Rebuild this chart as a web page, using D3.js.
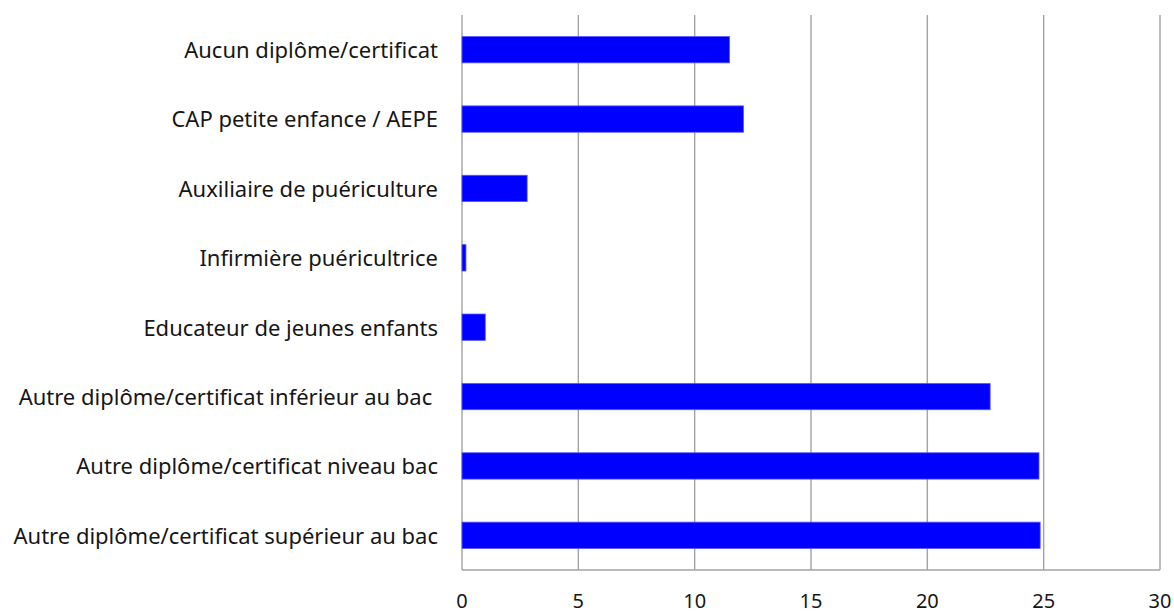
<!DOCTYPE html>
<html>
<head>
<meta charset="utf-8">
<script src="https://cdn.jsdelivr.net/npm/d3@7"></script>
<style>
  html, body { margin: 0; padding: 0; background: #fff; }
  svg text { font-family: "Noto Sans", "Open Sans", sans-serif; fill: #161616; }
</style>
</head>
<body>
<svg id="chart" width="1174" height="614"></svg>
<script>
// Diplômes des professionnels (en %)
const categories = [
  "Aucun diplôme/certificat",
  "CAP petite enfance / AEPE",
  "Auxiliaire de puériculture",
  "Infirmière puéricultrice",
  "Educateur de jeunes enfants",
  "Autre diplôme/certificat inférieur au bac ",
  "Autre diplôme/certificat niveau bac",
  "Autre diplôme/certificat supérieur au bac"
];
const values = [11.5, 12.1, 2.8, 0.17, 1.0, 22.7, 24.8, 24.85];
const xTicks = [0, 5, 10, 15, 20, 25, 30];

const svg = d3.select("#chart");
const margin = { top: 15, right: 14, bottom: 44, left: 462 };
const W = 1174, H = 614;

const x = d3.scaleLinear().domain([0, 30]).range([margin.left, W - margin.right]);
const y = d3.scaleBand().domain(categories).range([margin.top, H - margin.bottom])
  .paddingInner(0.62).paddingOuter(0.31);

// vertical gridlines
svg.append("g").selectAll("line").data(xTicks).join("line")
  .attr("x1", d => x(d)).attr("x2", d => x(d))
  .attr("y1", margin.top).attr("y2", H - margin.bottom)
  .attr("stroke", "#a3a3a3").attr("stroke-width", 1.4);

// bottom axis line
svg.append("line")
  .attr("x1", x(0)).attr("x2", x(30))
  .attr("y1", H - margin.bottom).attr("y2", H - margin.bottom)
  .attr("stroke", "#a3a3a3").attr("stroke-width", 1.4);

// bars
svg.append("g").selectAll("rect").data(values).join("rect")
  .attr("x", x(0))
  .attr("y", (d, i) => y(categories[i]))
  .attr("width", d => x(d) - x(0))
  .attr("height", y.bandwidth())
  .attr("fill", "#0000ff")
  .attr("stroke", "#5a5aff").attr("stroke-width", 0.8);

// x tick labels
svg.append("g").selectAll("text").data(xTicks).join("text")
  .attr("x", d => x(d)).attr("y", H - 6)
  .attr("text-anchor", "middle")
  .attr("font-size", 20)
  .text(d => d);

// category labels
svg.append("g").selectAll("text").data(categories).join("text")
  .attr("x", margin.left - 24)
  .attr("y", d => y(d) + y.bandwidth() / 2)
  .attr("dy", "0.38em")
  .attr("text-anchor", "end")
  .attr("font-size", 22)
  .attr("xml:space", "preserve")
  .style("white-space", "pre")
  .text(d => d);
</script>
</body>
</html>
